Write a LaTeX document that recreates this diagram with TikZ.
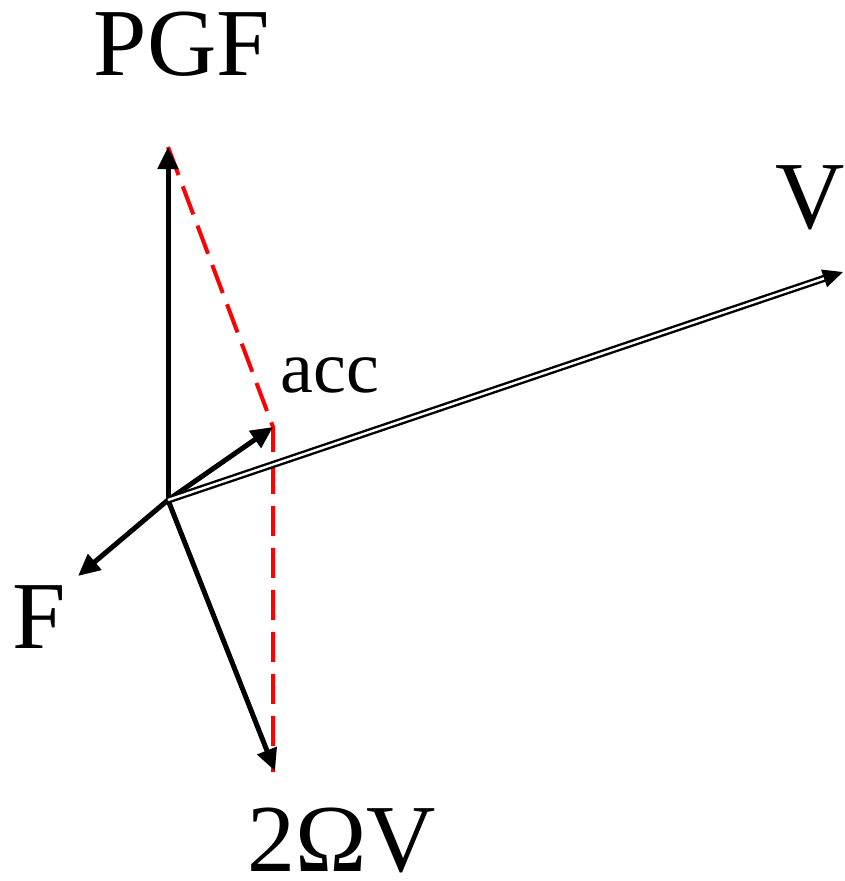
\documentclass[tikz,border=0pt]{standalone}
\usepackage{fontspec}
\setmainfont{Liberation Serif}
\usetikzlibrary{arrows.meta}
\begin{document}
\begin{tikzpicture}[x=1pt,y=-1pt,
  vec/.style={line width=5pt,-{Triangle[length=22pt,width=20pt]}},
  vvec/.style={line width=2.4pt,double=white,double distance=2.4pt,-{Triangle[length=20pt,width=18pt]}},
  reddash/.style={red,line width=4pt,dash pattern=on 30pt off 12pt},
  lbl/.style={inner sep=0pt,anchor=base,text depth=0pt,font=\fontsize{96}{100}\selectfont},
  lbls/.style={inner sep=0pt,anchor=base,text depth=0pt,font=\fontsize{74}{80}\selectfont}]
\useasboundingbox (0,0) rectangle (845,881);
\coordinate (O) at (168,500);
\coordinate (P) at (168,147);
\coordinate (A) at (273,427);
\coordinate (C) at (275,771);
\coordinate (Cr) at (273,772);
\coordinate (Fv) at (78,576);
\coordinate (V) at (843,272);
\draw[reddash] (P) -- (A) -- (Cr);
\draw[vec] (O) -- (P);
\draw[vec] (O) -- (A);
\draw[vec] (O) -- (C);
\draw[vec] (O) -- (Fv);
\draw[vvec] (O) -- (V);
\node[lbl] (lP) at (182,75) {PGF};
\node[lbls] (lA) at (330,392) {acc};
\node[lbl] (lV) at (810,228) {V};
\node[lbl] (lF) at (39,648) {F};
\node[lbl] (lC) at (342,871) {2ΩV};
\end{tikzpicture}
\end{document}
